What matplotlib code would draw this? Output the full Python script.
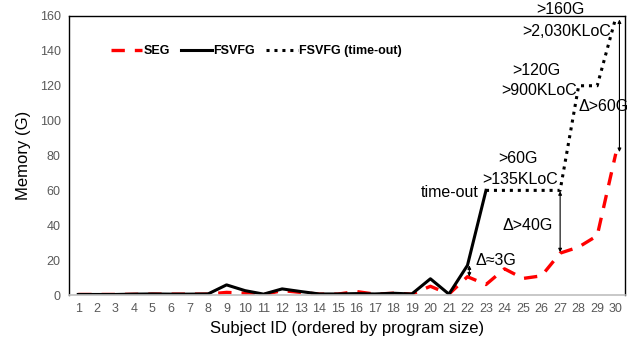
import matplotlib
matplotlib.use("Agg")
import matplotlib.pyplot as plt

plt.rcParams['font.family'] = ['Liberation Sans', 'DejaVu Sans']

subject_ids = list(range(1, 31))
seg = [0.3, 0.3, 0.3, 0.4, 0.5, 0.5, 0.5, 0.5, 1.5, 1.0, 0.3, 2.5, 1.5, 0.5, 0.5,
       2.0, 0.5, 1.0, 0.5, 5.0, 0.5, 10.5, 6.0, 15.0, 9.5, 11.0, 24.0, 27.5, 34.0, 81.0]
fsvfg_ids = list(range(1, 24))
fsvfg = [0.3, 0.3, 0.3, 0.5, 0.6, 0.5, 0.5, 0.6, 5.8, 2.5, 0.5, 3.5, 2.0, 0.6, 0.6,
         0.8, 0.6, 1.0, 0.6, 9.3, 0.5, 17.0, 60.0]
timeout_ids = [23, 24, 25, 26, 27, 28, 29, 30]
timeout_mem = [60, 60, 60, 60, 60, 120, 120, 159]

fig = plt.figure(figsize=(6.39, 3.45), dpi=100)
ax = fig.add_axes([69 / 639, 50 / 345, 556 / 639, 279 / 345])

ax.plot(subject_ids, seg, color='#ff0000', lw=2.4, dashes=(4, 3), label='SEG')
ax.plot(fsvfg_ids, fsvfg, color='black', lw=2.2, label='FSVFG')
ax.plot(timeout_ids, timeout_mem, color='black', lw=2.2, ls=(0, (1, 1.6)),
        label='FSVFG (time-out)')

ax.set_xlim(0.5, 30.5)
ax.set_ylim(0, 160)
ax.set_xticks(subject_ids)
ax.set_yticks(range(0, 161, 20))
ax.tick_params(length=0, labelsize=9, colors='#595959', pad=6)
for s in ax.spines.values():
    s.set_color('black')
    s.set_linewidth(1.0)
ax.spines['bottom'].set_color('#bfbfbf')
ax.spines['bottom'].set_linewidth(1.2)

ax.set_xlabel('Subject ID (ordered by program size)', fontsize=12, labelpad=4)
ax.set_ylabel('Memory (G)', fontsize=12, labelpad=6)

ax.legend(loc='upper left', bbox_to_anchor=(0.055, 0.935), ncol=3, frameon=False,
          prop={'weight': 'bold', 'size': 9}, handlelength=2.5, handletextpad=0.1,
          columnspacing=0.9)

fs = 11.5
ax.text(22.6, 59, 'time-out', ha='right', va='center', fontsize=fs)
ax.text(24.7, 78.5, '>60G', ha='center', va='center', fontsize=fs)
ax.text(26.9, 66, '>135KLoC', ha='right', va='center', fontsize=fs)
ax.text(25.7, 129, '>120G', ha='center', va='center', fontsize=fs)
ax.text(27.9, 117.5, '>900KLoC', ha='right', va='center', fontsize=fs)
ax.text(27.0, 163.5, '>160G', ha='center', va='center', fontsize=fs, clip_on=False)
ax.text(29.75, 151, '>2,030KLoC', ha='right', va='center', fontsize=fs)
ax.text(28.0, 108, 'Δ>60G', ha='left', va='center', fontsize=fs)
ax.text(23.9, 40, 'Δ>40G', ha='left', va='center', fontsize=fs)
ax.text(22.45, 20, 'Δ≈3G', ha='left', va='center', fontsize=fs)

arrow = dict(arrowstyle='<|-|>', color='black', lw=0.8, mutation_scale=5,
             shrinkA=0, shrinkB=0)
ax.annotate('', xy=(27, 24.5), xytext=(27, 59.5), arrowprops=arrow)
ax.annotate('', xy=(30.2, 82), xytext=(30.2, 158), arrowprops=arrow)
ax.annotate('', xy=(22.1, 10.5), xytext=(22.1, 17), arrowprops=arrow)

fig.savefig('out.png', dpi=100)
